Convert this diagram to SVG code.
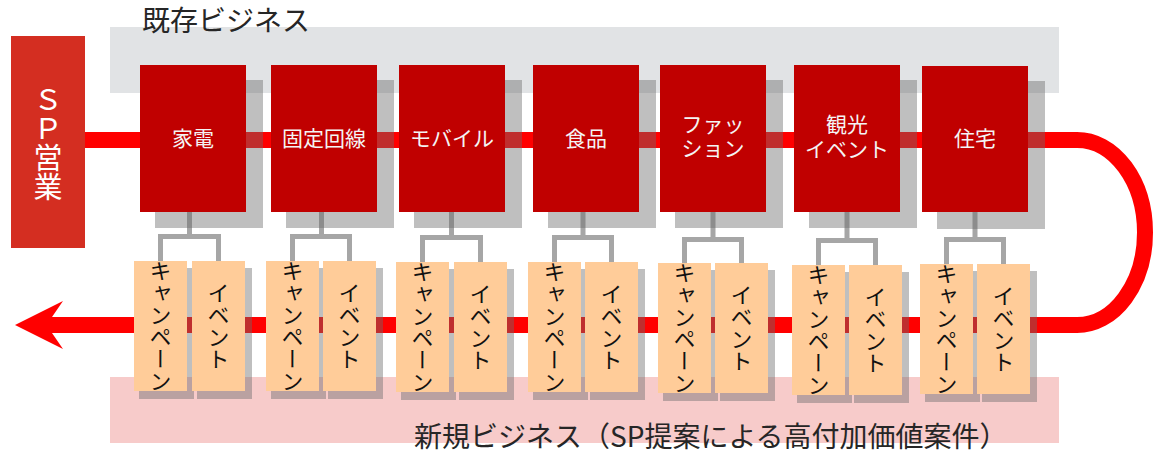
<svg xmlns="http://www.w3.org/2000/svg" width="1154" height="455" viewBox="0 0 1154 455">
<style>
text{font-family:"Noto Sans CJK JP","Noto Sans",sans-serif}
.band1{fill:#E1E3E5}
.band2{fill:#F7CBCA}
.title{font-size:28px;fill:#262626}
.sp{fill:#D42E21}
.spt{font-size:29px;fill:#FFFFFF;text-anchor:middle;writing-mode:vertical-rl}
.flow{fill:none;stroke:#FF0000;stroke-width:16}
.sh{fill:#6B6B6B;fill-opacity:0.43}
.rb{fill:#C00000}
.rt{font-size:21px;fill:#F4F4F4;text-anchor:middle}
.ob{fill:#FFCC99}
.vt{font-size:22px;fill:#111111;text-anchor:middle;writing-mode:vertical-rl}
.con{fill:none;stroke:#A6A6A6;stroke-width:5}
</style>
<rect class="band1" x="110" y="27" width="949" height="66"/>
<rect class="band2" x="110" y="377" width="949" height="66"/>
<text class="title" x="142" y="31">既存ビジネス</text>
<text class="title" x="414" y="447">新規ビジネス（SP提案による高付加価値案件）</text>

<g id="sp-sales">
<rect class="sp" x="11" y="36" width="74" height="212"/>
<text class="spt" x="48" y="143">ＳＰ営業</text>
</g>

<g id="connectors">
<path class="flow" d="M85 140 H1077 A68 92.5 0 0 1 1077 325 H52"/>
<polygon fill="#FF0000" points="15,325 63,301 52,317 52,333 63,349"/>
<path class="con" d="M189.5 212 V236.5 M160.5 261 V236.5 H218.5 V261"/>
<path class="con" d="M321.5 212 V236.5 M292.5 261 V236.5 H349.5 V261"/>
<path class="con" d="M451.5 212 V237.5 M422.5 262 V237.5 H480.5 V262"/>
<path class="con" d="M583 212 V237.5 M554.5 262 V237.5 H611.5 V262"/>
<path class="con" d="M713 212 V239.5 M684.5 263 V239.5 H741.5 V263"/>
<path class="con" d="M847 212 V240.5 M818.5 265 V240.5 H875.5 V265"/>
<path class="con" d="M975 212 V239.5 M946.5 264 V239.5 H1003.5 V264"/>
</g>

<g id="shadows">
<rect class="sh" x="155" y="80" width="108" height="148"/>
<rect class="sh" x="286" y="80" width="108" height="148"/>
<rect class="sh" x="414" y="80" width="108" height="148"/>
<rect class="sh" x="548" y="80" width="108" height="148"/>
<rect class="sh" x="675" y="80" width="108" height="148"/>
<rect class="sh" x="809" y="80" width="108" height="148"/>
<rect class="sh" x="937" y="81" width="108" height="148"/>
<rect class="sh" x="139" y="268" width="55" height="131"/>
<rect class="sh" x="197" y="268" width="55" height="131"/>
<rect class="sh" x="271" y="268" width="55" height="131"/>
<rect class="sh" x="328" y="268" width="55" height="131"/>
<rect class="sh" x="401" y="269" width="55" height="131"/>
<rect class="sh" x="459" y="269" width="55" height="131"/>
<rect class="sh" x="533" y="269" width="55" height="131"/>
<rect class="sh" x="590" y="269" width="55" height="131"/>
<rect class="sh" x="663" y="270" width="55" height="131"/>
<rect class="sh" x="720" y="270" width="55" height="131"/>
<rect class="sh" x="797" y="272" width="55" height="131"/>
<rect class="sh" x="854" y="272" width="55" height="131"/>
<rect class="sh" x="925" y="271" width="55" height="131"/>
<rect class="sh" x="982" y="271" width="55" height="131"/>
</g>

<g id="kaden"><rect class="rb" x="140" y="65" width="106" height="147"/><text class="rt" x="193" y="146">家電</text></g>
<g id="kotei"><rect class="rb" x="271" y="65" width="106" height="147"/><text class="rt" x="324" y="146">固定回線</text></g>
<g id="mobile"><rect class="rb" x="399" y="65" width="106" height="147"/><text class="rt" x="452" y="146">モバイル</text></g>
<g id="shokuhin"><rect class="rb" x="533" y="65" width="106" height="147"/><text class="rt" x="586" y="146">食品</text></g>
<g id="fashion"><rect class="rb" x="660" y="65" width="106" height="147"/><text class="rt"><tspan x="713" y="132">ファッ</tspan><tspan x="713" y="156">ション</tspan></text></g>
<g id="kanko"><rect class="rb" x="794" y="65" width="106" height="147"/><text class="rt"><tspan x="847" y="132">観光</tspan><tspan x="847" y="157">イベント</tspan></text></g>
<g id="jutaku"><rect class="rb" x="922" y="66" width="106" height="146"/><text class="rt" x="975" y="146">住宅</text></g>

<g id="g1-campaign"><rect class="ob" x="134" y="261" width="53" height="130"/><text class="vt" x="160.5" y="326">キャンペーン</text></g>
<g id="g1-event"><rect class="ob" x="192" y="261" width="53" height="130"/><text class="vt" x="218.5" y="326">イベント</text></g>
<g id="g2-campaign"><rect class="ob" x="266" y="261" width="53" height="130"/><text class="vt" x="292.5" y="326">キャンペーン</text></g>
<g id="g2-event"><rect class="ob" x="323" y="261" width="53" height="130"/><text class="vt" x="349.5" y="326">イベント</text></g>
<g id="g3-campaign"><rect class="ob" x="396" y="262" width="53" height="130"/><text class="vt" x="422.5" y="327">キャンペーン</text></g>
<g id="g3-event"><rect class="ob" x="454" y="262" width="53" height="130"/><text class="vt" x="480.5" y="327">イベント</text></g>
<g id="g4-campaign"><rect class="ob" x="528" y="262" width="53" height="130"/><text class="vt" x="554.5" y="327">キャンペーン</text></g>
<g id="g4-event"><rect class="ob" x="585" y="262" width="53" height="130"/><text class="vt" x="611.5" y="327">イベント</text></g>
<g id="g5-campaign"><rect class="ob" x="658" y="263" width="53" height="130"/><text class="vt" x="684.5" y="328">キャンペーン</text></g>
<g id="g5-event"><rect class="ob" x="715" y="263" width="53" height="130"/><text class="vt" x="741.5" y="328">イベント</text></g>
<g id="g6-campaign"><rect class="ob" x="792" y="265" width="53" height="130"/><text class="vt" x="818.5" y="330">キャンペーン</text></g>
<g id="g6-event"><rect class="ob" x="849" y="265" width="53" height="130"/><text class="vt" x="875.5" y="330">イベント</text></g>
<g id="g7-campaign"><rect class="ob" x="920" y="264" width="53" height="130"/><text class="vt" x="946.5" y="329">キャンペーン</text></g>
<g id="g7-event"><rect class="ob" x="977" y="264" width="53" height="130"/><text class="vt" x="1003.5" y="329">イベント</text></g>
</svg>
